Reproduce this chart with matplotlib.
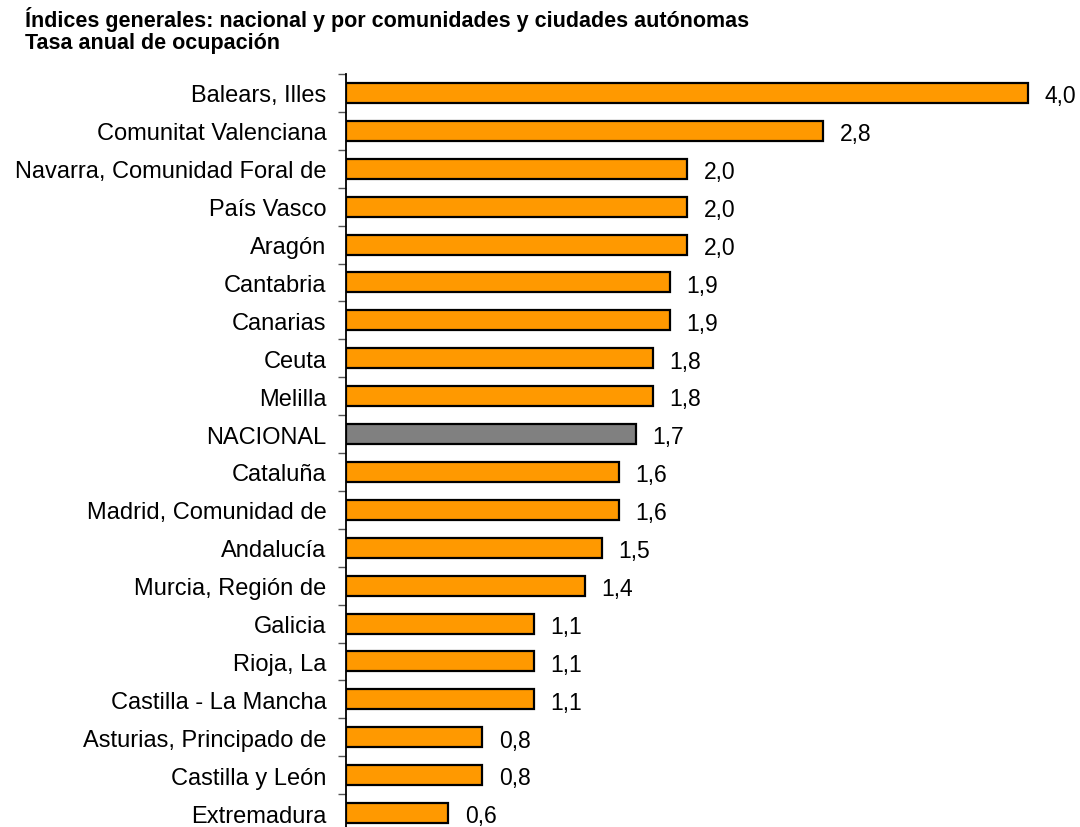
import matplotlib
matplotlib.use("Agg")
import matplotlib.pyplot as plt
import numpy as np

plt.rcParams['font.family'] = ['Liberation Sans', 'DejaVu Sans']

# datos (de arriba a abajo)
regiones = ["Balears, Illes", "Comunitat Valenciana", "Navarra, Comunidad Foral de",
            "País Vasco", "Aragón", "Cantabria", "Canarias", "Ceuta", "Melilla",
            "NACIONAL", "Cataluña", "Madrid, Comunidad de", "Andalucía",
            "Murcia, Región de", "Galicia", "Rioja, La", "Castilla - La Mancha",
            "Asturias, Principado de", "Castilla y León", "Extremadura"]
tasas = [4.0, 2.8, 2.0, 2.0, 2.0, 1.9, 1.9, 1.8, 1.8, 1.7,
         1.6, 1.6, 1.5, 1.4, 1.1, 1.1, 1.1, 0.8, 0.8, 0.6]

W, H = 1080, 828
fig = plt.figure(figsize=(W / 100, H / 100), dpi=100)
# eje desde x=346 hasta el borde derecho, y de 75 a 833 px
ax = fig.add_axes([346 / W, -5 / H, (W - 346) / W, (833 - 75) / H])

pos = np.arange(len(regiones))
colores = ["#808080" if r == "NACIONAL" else "#FF9900" for r in regiones]
ax.barh(pos, tasas, height=0.53, color=colores, edgecolor="black", linewidth=1.6)

ax.set_xlim(0, (W - 346) / 170.5)
ax.set_ylim(len(regiones) - 0.5, -0.5)

for p, v in zip(pos, tasas):
    ax.annotate(f"{v:.1f}".replace(".", ","), (v, p), xytext=(12, -2),
                textcoords="offset points", va="center", ha="left", fontsize=16.5)

ax.set_yticks(pos)
ax.set_yticklabels(regiones, fontsize=17)
ax.set_yticks(np.arange(len(regiones) + 1) - 0.5, minor=True)
ax.tick_params(axis="y", which="major", length=0, pad=14)
ax.tick_params(axis="y", which="minor", length=6, width=1, color="#555555")
ax.set_xticks([])
for s in ["top", "right", "bottom"]:
    ax.spines[s].set_visible(False)
ax.spines["left"].set_linewidth(1.3)

fig.text(25 / W, 1 - 27 / H, "Índices generales: nacional y por comunidades y ciudades autónomas",
         fontsize=15.5, fontweight="bold", va="baseline", ha="left")
fig.text(25 / W, 1 - 49 / H, "Tasa anual de ocupación",
         fontsize=15.5, fontweight="bold", va="baseline", ha="left")

fig.savefig("out.png", dpi=100)
